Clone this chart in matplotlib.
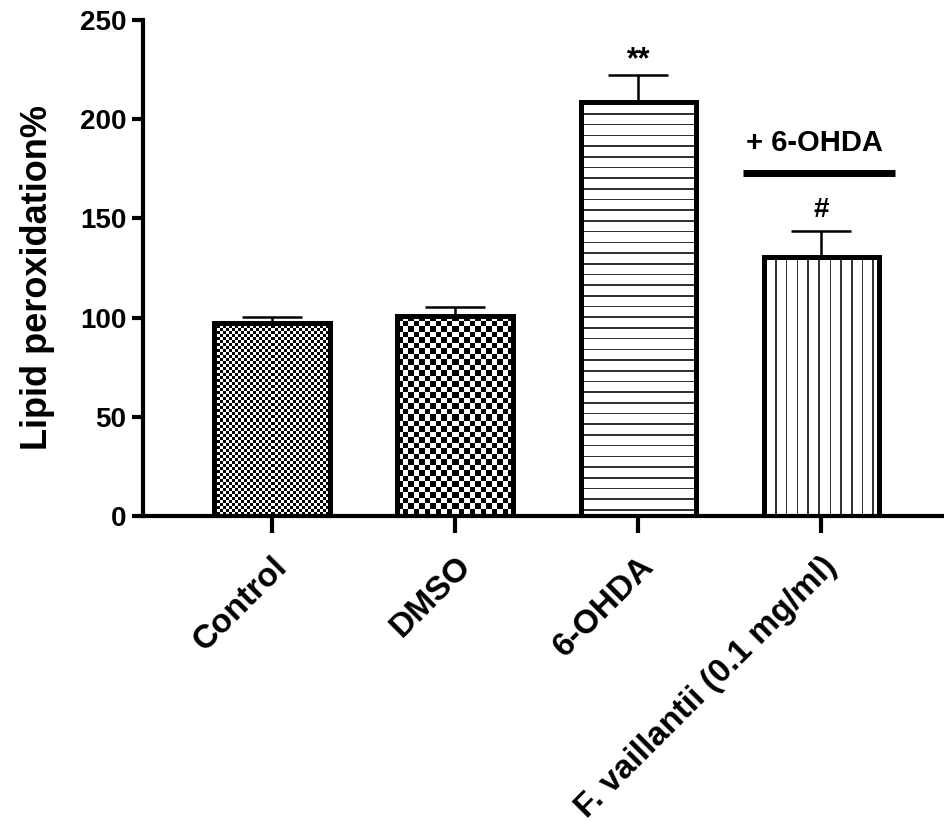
import numpy as np
import matplotlib
matplotlib.use("Agg")
import matplotlib.pyplot as plt
from matplotlib.transforms import ScaledTranslation

plt.rcParams["font.family"] = "Liberation Sans"
plt.rcParams["font.weight"] = "bold"

# values (mean + upper SEM)
groups = ["Control", "DMSO", "6-OHDA", "F. vaillantii (0.1 mg/ml)"]
means = [97.5, 101.0, 208.5, 130.5]
sem = [3.0, 4.5, 14.0, 13.0]
marks = ["", "", "**", "#"]
fills = ["fine_checker", "checker", "hlines", "vlines"]
y_ticks = [0, 50, 100, 150, 200, 250]

# "+ 6-OHDA" bracket over the last group
treat_label = "+ 6-OHDA"
treat_span = (2.57, 3.40)
treat_y = 173

fig = plt.figure(figsize=(9.44, 8.26), dpi=100)
ax = fig.add_axes([143 / 944, 1 - 516 / 826, 1 - 143 / 944, (516 - 20) / 826])

x = np.arange(len(groups))
bar_w = 0.63
ax.set_xlim(-0.705, 3.67)
ax.set_ylim(0, 250)


def fill_pattern(kind, w, h):
    rows, cols = np.indices((h, w))
    img = np.ones((h, w))
    if kind == "fine_checker":
        img = ((rows // 3 + cols // 3) % 2).astype(float)
    elif kind == "checker":
        img = ((np.floor(rows / 5.5) + np.floor(cols / 5.5)) % 2).astype(float)
    elif kind == "hlines":
        img[(rows % 10.7) < 1.6] = 0.2
    elif kind == "vlines":
        img[(cols % 10.7) < 1.6] = 0.2
    return img


# bar fills drawn as pixel patterns sized to each bar
for xi, m, kind in zip(x, means, fills):
    (px0, py0), (px1, py1) = ax.transData.transform([(xi - bar_w / 2, 0), (xi + bar_w / 2, m)])
    img = fill_pattern(kind, int(round(px1 - px0)), int(round(py1 - py0)))
    ax.imshow(img, extent=(xi - bar_w / 2, xi + bar_w / 2, 0, m), cmap="gray",
              vmin=0, vmax=1, interpolation="nearest", aspect="auto", zorder=2)

ax.bar(x, means, width=bar_w, facecolor="none", edgecolor="black", linewidth=3.6, zorder=3)
ax.errorbar(x, means, yerr=[np.zeros(len(sem)), sem], fmt="none", ecolor="black",
            elinewidth=1.8, capsize=21.6, capthick=1.8, zorder=1)

mark_gap = {"**": 7.0, "#": 10.5}
mark_size = {"**": 22, "#": 20}
for xi, m, s, mk in zip(x, means, sem, marks):
    if mk:
        ax.text(xi, m + s + mark_gap[mk], mk, ha="center", va="center", fontsize=mark_size[mk])

ax.plot(treat_span, [treat_y, treat_y], color="black", lw=5, solid_capstyle="butt")
ax.text(np.mean(treat_span) - 0.02, treat_y + 15, treat_label, ha="center", va="center", fontsize=21)

ax.set_xlim(-0.705, 3.67)
ax.set_ylim(0, 250)
ax.set_yticks(y_ticks)
ax.set_xticks(x)
ax.set_xticklabels(groups, rotation=45, ha="right", va="top", rotation_mode="anchor", fontsize=24)
for lbl in ax.get_xticklabels():
    lbl.set_transform(lbl.get_transform() + ScaledTranslation(3 / 100, 0, fig.dpi_scale_trans))

ax.tick_params(axis="x", length=12, width=3, pad=13)
ax.tick_params(axis="y", length=8, width=3, pad=4, labelsize=20)
ax.set_ylabel("Lipid peroxidation%", fontsize=26, fontweight="bold")
ax.yaxis.set_label_coords(-0.11, 0.48)

for side in ["top", "right"]:
    ax.spines[side].set_visible(False)
for side in ["left", "bottom"]:
    ax.spines[side].set_linewidth(3)
ax.spines["left"].set_capstyle("projecting")

fig.savefig("out.png", dpi=100)
